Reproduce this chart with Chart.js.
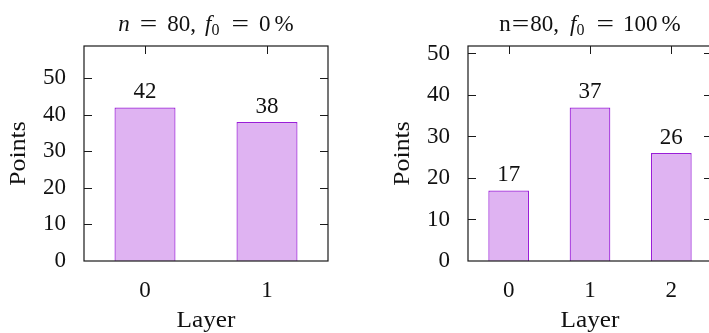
<!DOCTYPE html>
<html>
<head>
<meta charset="utf-8">
<script src="https://cdn.jsdelivr.net/npm/chart.js@4.4.1/dist/chart.umd.min.js"></script>
<style>
  html, body { margin: 0; padding: 0; background: #fff; overflow: hidden; }
  body { width: 709px; height: 333px; position: relative; }
  canvas { position: absolute; top: 0; }
  #left { left: 0; }
  #right { left: 354px; }
</style>
</head>
<body>
<canvas id="left" width="354" height="333"></canvas>
<canvas id="right" width="370" height="333"></canvas>
<script>
/* 2枚の棒グラフ: 層ごとの点数 (f0 = 0% / 100%) */

const LEFT_LAYERS = ["0", "1"];
const LEFT_POINTS = [42, 38];
const LEFT_YMAX = 58.8;

const RIGHT_LAYERS = ["0", "1", "2"];
const RIGHT_POINTS = [17, 37, 26];
const RIGHT_YMAX = 51.8;

const Y_STEP = 10;

// dx = 直前の部品との間隔(数式の空白), sx = 横方向の伸び(CMの「=」は幅広)
const LEFT_TITLE = [
  { t: "n", it: true }, { t: "=", dx: 10, sx: 1.35 }, { t: "80,", dx: 10 },
  { t: "f", it: true, dx: 9 }, { t: "0", sub: true }, { t: "=", dx: 12, sx: 1.35 },
  { t: "0", dx: 10 }, { t: "%", dx: 4 },
];
const RIGHT_TITLE = [
  { t: "n" }, { t: "=", sx: 1.35, dx: 1 }, { t: "80,", dx: 1 },
  { t: "f", it: true, dx: 11 }, { t: "0", sub: true }, { t: "=", dx: 12, sx: 1.35 },
  { t: "100", dx: 9 }, { t: "%", dx: 4 },
];

const FONT = "'Liberation Serif', 'DejaVu Serif', serif";
const ink = "#111";
const FILL = "rgb(223, 179, 242)";
const EDGE = "#9a1ed8";

function drawRich(ctx, parts, cx, base) {
  const fontOf = (p) => `${p.it ? "italic " : ""}${p.sub ? 16 : 23}px ${FONT}`;
  const widthOf = (p) => { ctx.font = fontOf(p); return ctx.measureText(p.t).width * (p.sx || 1); };
  const w = parts.reduce((s, p) => s + (p.dx || 0) + widthOf(p), 0);
  let x = cx - w / 2;
  ctx.textAlign = "left";
  ctx.textBaseline = "alphabetic";
  parts.forEach((p) => {
    x += p.dx || 0;
    const pw = widthOf(p);
    ctx.save();
    ctx.translate(x, base + (p.sub ? 4 : 0));
    ctx.scale(p.sx || 1, 1);
    ctx.fillText(p.t, 0, 0);
    ctx.restore();
    x += pw;
  });
}

function wideText(ctx, text, x, y, sx) {
  ctx.save();
  ctx.translate(x, y);
  ctx.scale(sx, 1);
  ctx.fillText(text, 0, 0);
  ctx.restore();
}

// 枠・内向き目盛・タイトル・軸名・棒上の数値
const framePlugin = {
  id: "frame",
  afterDatasetsDraw(chart) {
    const ctx = chart.ctx;
    const a = chart.chartArea;
    const ys = chart.scales.y;
    const xs = chart.scales.x;
    ctx.save();
    ctx.strokeStyle = "#1a1a1a";
    ctx.lineWidth = 1.2;
    ctx.strokeRect(a.left, a.top, a.right - a.left, a.bottom - a.top);
    ctx.beginPath();
    ys.ticks.forEach((t) => {
      if (t.value === 0) return;
      const y = Math.round(ys.getPixelForValue(t.value)) + 0.5;
      ctx.moveTo(a.left, y); ctx.lineTo(a.left + 8, y);
      ctx.moveTo(a.right, y); ctx.lineTo(a.right - 8, y);
    });
    xs.ticks.forEach((t, i) => {
      const x = Math.round(xs.getPixelForTick(i)) + 0.5;
      ctx.moveTo(x, a.top); ctx.lineTo(x, a.top + 8);
    });
    ctx.lineWidth = 1;
    ctx.stroke();

    // 棒上の値
    ctx.fillStyle = ink;
    ctx.font = `23px ${FONT}`;
    ctx.textAlign = "center";
    ctx.textBaseline = "alphabetic";
    const ds = chart.data.datasets[0];
    chart.getDatasetMeta(0).data.forEach((bar, i) => {
      ctx.fillText(String(ds.data[i]), bar.x, bar.y - 9);
    });

    // タイトル
    drawRich(ctx, chart.options.plugins.frame.title, (a.left + a.right) / 2, a.top - 15);

    // 軸名
    ctx.font = `23px ${FONT}`;
    ctx.textAlign = "center";
    wideText(ctx, "Layer", (a.left + a.right) / 2, a.bottom + 66, 1.1);
    ctx.translate(a.left - 59, (a.top + a.bottom) / 2);
    ctx.rotate(-Math.PI / 2);
    wideText(ctx, "Points", 0, 0, 1.12);
    ctx.restore();
  },
};

function makeChart(id, labels, values, yMax, yWidth, padRight, title) {
  return new Chart(document.getElementById(id), {
    type: "bar",
    data: {
      labels,
      datasets: [{
        data: values,
        backgroundColor: FILL,
        borderColor: EDGE,
        borderWidth: 1.2,
        barPercentage: 0.5,
        categoryPercentage: 1,
      }],
    },
    options: {
      responsive: false,
      animation: false,
      layout: { padding: { top: 46, right: padRight, left: 0, bottom: 0 } },
      plugins: { legend: { display: false }, tooltip: { enabled: false }, frame: { title } },
      scales: {
        x: {
          grid: { display: false, drawTicks: false },
          border: { display: false },
          ticks: { color: ink, font: { family: FONT, size: 23 }, padding: 16 },
          afterFit: (s) => { s.height = 72; },
        },
        y: {
          min: 0,
          max: yMax,
          grid: { display: false, drawTicks: false },
          border: { display: false },
          ticks: { stepSize: Y_STEP, includeBounds: false, color: ink, font: { family: FONT, size: 23 }, padding: 18 },
          afterFit: (s) => { s.width = yWidth; },
        },
      },
    },
    plugins: [framePlugin],
  });
}

makeChart("left", LEFT_LAYERS, LEFT_POINTS, LEFT_YMAX, 84, 26, LEFT_TITLE);
makeChart("right", RIGHT_LAYERS, RIGHT_POINTS, RIGHT_YMAX, 114, 12, RIGHT_TITLE);
</script>
</body>
</html>
